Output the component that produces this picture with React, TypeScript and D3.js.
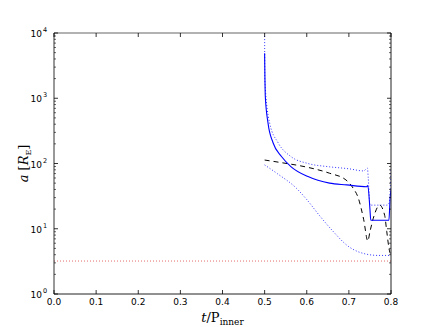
import React from 'react';
import * as d3 from 'd3';

const width = 436;
const height = 327;
const margin = { top: 33, left: 54, right: 45, bottom: 33 };

// t / P_inner and a [R_E]
const solidT = [0.5, 0.5016, 0.508, 0.52, 0.54, 0.563, 0.603, 0.654, 0.695, 0.742, 0.745, 0.75, 0.752, 0.79, 0.795, 0.798, 0.8];
const solidA = [4900, 1070, 420, 208, 128, 89, 63, 50, 47, 44, 46, 20, 13.5, 13.5, 13.5, 30, 40];

const dashedT = [0.5, 0.54, 0.6, 0.654, 0.693, 0.71, 0.722, 0.735, 0.745, 0.75, 0.76, 0.773, 0.785, 0.79, 0.796, 0.8];
const dashedA = [113, 103, 88, 71, 56, 42, 30, 14, 6.5, 9, 16, 23, 16, 9, 4.7, 4];

const upperT = [0.5, 0.5005, 0.512, 0.532, 0.563, 0.603, 0.654, 0.7, 0.735, 0.744, 0.746, 0.75, 0.79, 0.796, 0.8];
const upperA = [10000, 1900, 415, 208, 127, 100, 89, 83, 77, 85, 60, 23, 23, 25, 80];

const lowerT = [0.5, 0.53, 0.575, 0.6, 0.63, 0.66, 0.7, 0.74, 0.77, 0.8];
const lowerA = [95, 70, 42, 28, 16, 9.5, 5.3, 4.1, 3.9, 3.9];

const hlineA = 3.2;

const xTicks = [0, 0.1, 0.2, 0.3, 0.4, 0.5, 0.6, 0.7, 0.8];
const yExps = [0, 1, 2, 3, 4];

const x = d3.scaleLinear().domain([0, 0.8]).range([margin.left, width - margin.right]);
const y = d3.scaleLog().domain([1, 10000]).range([height - margin.bottom, margin.top]);

const line = d3.line<[number, number]>().x(d => x(d[0])).y(d => y(d[1])).curve(d3.curveMonotoneX);
const pts = (ts: number[], as: number[]) => ts.map((t, i) => [t, as[i]] as [number, number]);

const minorTicks: number[] = [];
for (let e = 0; e < 4; e++) for (let m = 2; m <= 9; m++) minorTicks.push(m * Math.pow(10, e));

export default function App() {
  const x0 = margin.left, x1 = width - margin.right;
  const y0 = height - margin.bottom, y1 = margin.top;
  return (
    <svg width={width} height={height} style={{ position: 'absolute', left: 0, top: 0, background: '#fff' }}
      fontFamily="DejaVu Sans">
      <defs>
        <clipPath id="plot">
          <rect x={x0} y={y1} width={x1 - x0} height={y0 - y1} />
        </clipPath>
      </defs>
      <g clipPath="url(#plot)" fill="none">
        <line x1={x0} x2={x1} y1={y(hlineA)} y2={y(hlineA)} stroke="#e46a6a" strokeWidth={1} strokeDasharray="1,2" />
        <path d={line(pts(upperT, upperA)) || ''} stroke="#3333ff" strokeWidth={1} strokeDasharray="1,2" />
        <path d={line(pts(lowerT, lowerA)) || ''} stroke="#3333ff" strokeWidth={1} strokeDasharray="1,2" />
        <path d={line(pts(dashedT, dashedA)) || ''} stroke="#000" strokeWidth={1} strokeDasharray="5,4" />
        <path d={line(pts(solidT, solidA)) || ''} stroke="#0000ff" strokeWidth={1.1} />
      </g>
      {/* spines */}
      <line x1={x0} x2={x1} y1={y1} y2={y1} stroke="#999" strokeWidth={1.5} />
      <line x1={x0} x2={x0} y1={y1} y2={y0} stroke="#333" strokeWidth={1} />
      <line x1={x1} x2={x1} y1={y1} y2={y0} stroke="#222" strokeWidth={1} />
      <line x1={x0} x2={x1} y1={y0} y2={y0} stroke="#222" strokeWidth={1} />
      {/* x ticks */}
      {xTicks.map(t => (
        <g key={'x' + t}>
          <line x1={x(t)} x2={x(t)} y1={y0} y2={y0 - 4} stroke="#000" strokeWidth={0.8} />
          <line x1={x(t)} x2={x(t)} y1={y1} y2={y1 + 4} stroke="#000" strokeWidth={0.8} />
          <text x={x(t)} y={y0 + 11} fontSize={9} textAnchor="middle" fill="#000">{t.toFixed(1)}</text>
        </g>
      ))}
      {/* y ticks */}
      {yExps.map(e => (
        <g key={'y' + e}>
          <line x1={x0} x2={x0 + 4} y1={y(Math.pow(10, e))} y2={y(Math.pow(10, e))} stroke="#000" strokeWidth={0.8} />
          <line x1={x1} x2={x1 - 4} y1={y(Math.pow(10, e))} y2={y(Math.pow(10, e))} stroke="#000" strokeWidth={0.8} />
          <text x={x0 - 12} y={y(Math.pow(10, e)) + 4} fontSize={9} textAnchor="end" fill="#000">10</text>
          <text x={x0 - 11} y={y(Math.pow(10, e)) - 1} fontSize={6.5} textAnchor="start" fill="#000">{e}</text>
        </g>
      ))}
      {minorTicks.map(v => (
        <g key={'m' + v}>
          <line x1={x0} x2={x0 + 2} y1={y(v)} y2={y(v)} stroke="#000" strokeWidth={0.6} />
          <line x1={x1} x2={x1 - 2} y1={y(v)} y2={y(v)} stroke="#000" strokeWidth={0.6} />
        </g>
      ))}
      {/* axis labels */}
      <text x={(x0 + x1) / 2} y={y0 + 28} fontSize={13} textAnchor="middle" fontFamily="DejaVu Serif" fill="#000">
        <tspan fontStyle="italic">t</tspan>/P<tspan fontSize={9} dy={3}>inner</tspan>
      </text>
      <text transform={`translate(${28},${(y0 + y1) / 2}) rotate(-90)`} fontSize={13} textAnchor="middle"
        fontFamily="DejaVu Serif" fill="#000">
        <tspan fontStyle="italic">a</tspan> [<tspan fontStyle="italic">R</tspan><tspan fontSize={8} dy={3}>E</tspan><tspan dy={-3}>]</tspan>
      </text>
    </svg>
  );
}
